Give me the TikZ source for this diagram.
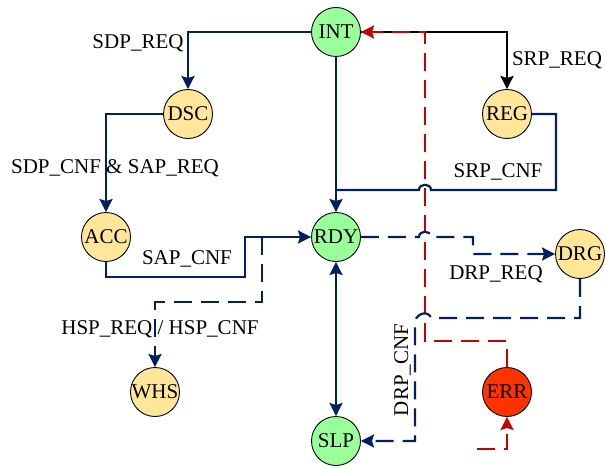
\documentclass[tikz,border=0pt]{standalone}
\usepackage{fontspec}
\setmainfont{Liberation Serif}
\usetikzlibrary{arrows.meta}
\definecolor{navy}{RGB}{0,32,96}
\definecolor{errline}{RGB}{200,0,0}
\definecolor{stgreen}{RGB}{153,255,153}
\definecolor{styellow}{RGB}{255,230,153}
\definecolor{sterr}{RGB}{255,51,0}
\begin{document}
\begin{tikzpicture}[x=1pt,y=-1pt,
  state/.style={circle,draw=black,line width=0.9pt,minimum size=49pt,inner sep=0pt,font=\fontsize{21}{21}\selectfont},
  gstate/.style={state,fill=stgreen},
  ystate/.style={state,fill=styellow},
  rstate/.style={state,fill=sterr},
  tip/.tip={Stealth[length=13pt,width=13pt,inset=2pt]},
  wire/.style={draw=navy,line width=2.2pt},
  conn/.style={wire,-tip},
  dconn/.style={conn,dash pattern=on 18pt off 9pt},
  rconn/.style={draw=errline,line width=2.2pt,dash pattern=on 18pt off 9pt,-tip},
  lbl/.style={font=\fontsize{21}{21}\selectfont,anchor=base,inner sep=0pt}
]
\useasboundingbox (0,0) rectangle (605,468);
% states
\node[gstate] (INT) at (336,32) {INT};
\node[ystate] (DSC) at (188,114) {DSC};
\node[ystate] (REG) at (507,114) {REG};
\node[ystate] (ACC) at (106,237) {ACC};
\node[gstate] (RDY) at (336,237) {RDY};
\node[ystate] (DRG) at (580,254) {DRG};
\node[ystate] (WHS) at (155,392) {WHS};
\node[gstate] (SLP) at (336,441) {SLP};
\node[rstate] (ERR) at (507,392) {ERR};
\coordinate (j1) at (336,190);
\coordinate (h0) at (262,237);
\coordinate (e0) at (477,449);
% connectors
\draw[conn] (INT.west) -| (DSC.north);
\draw[conn] (DSC.west) -| (ACC.north);
\draw[conn,draw=black] (INT.east) -| (REG.north);
\draw[conn] (INT.south) -- (RDY.north);
\draw[wire] (REG.east) -| (556,190) -- (431,190) .. controls (431,183) and (419,183) .. (419,190) -- (j1);
\draw[conn] (ACC.south) |- (245,277) -- (245,237) -- (RDY.west);
\draw[dconn] (h0) -- (262,302) -| (WHS.north);
\draw[conn,tip-tip] (RDY.south) -- (SLP.north);
% error paths
\draw[rconn] (ERR.north) -- (507,341) -- (425,341) -- (425,32) -- (INT.east);
\draw[rconn] (e0) -| (ERR.south);
% dashed connectors hopping over red line
\draw[dconn] (RDY.east) -- (419,237) .. controls (419,230) and (431,230) .. (431,237) -- (473,237) |- (DRG.west);
\draw[dconn] (DRG.south) |- (431,318) .. controls (429,311) and (418,312) .. (415,321) |- (SLP.east);
% labels
\node[lbl] (l1) at (138,49) {SDP\_REQ};
\node[lbl] (l2) at (115,173) {SDP\_CNF \& SAP\_REQ};
\node[lbl] (l3) at (557,66) {SRP\_REQ};
\node[lbl] (l4) at (498,178) {SRP\_CNF};
\node[lbl] (l5) at (187,264) {SAP\_CNF};
\node[lbl] (l6) at (160,334) {HSP\_REQ / HSP\_CNF};
\node[lbl] (l7) at (496,279) {DRP\_REQ};
\node[lbl,rotate=90] (l8) at (408,370) {DRP\_CNF};
\end{tikzpicture}
\end{document}
